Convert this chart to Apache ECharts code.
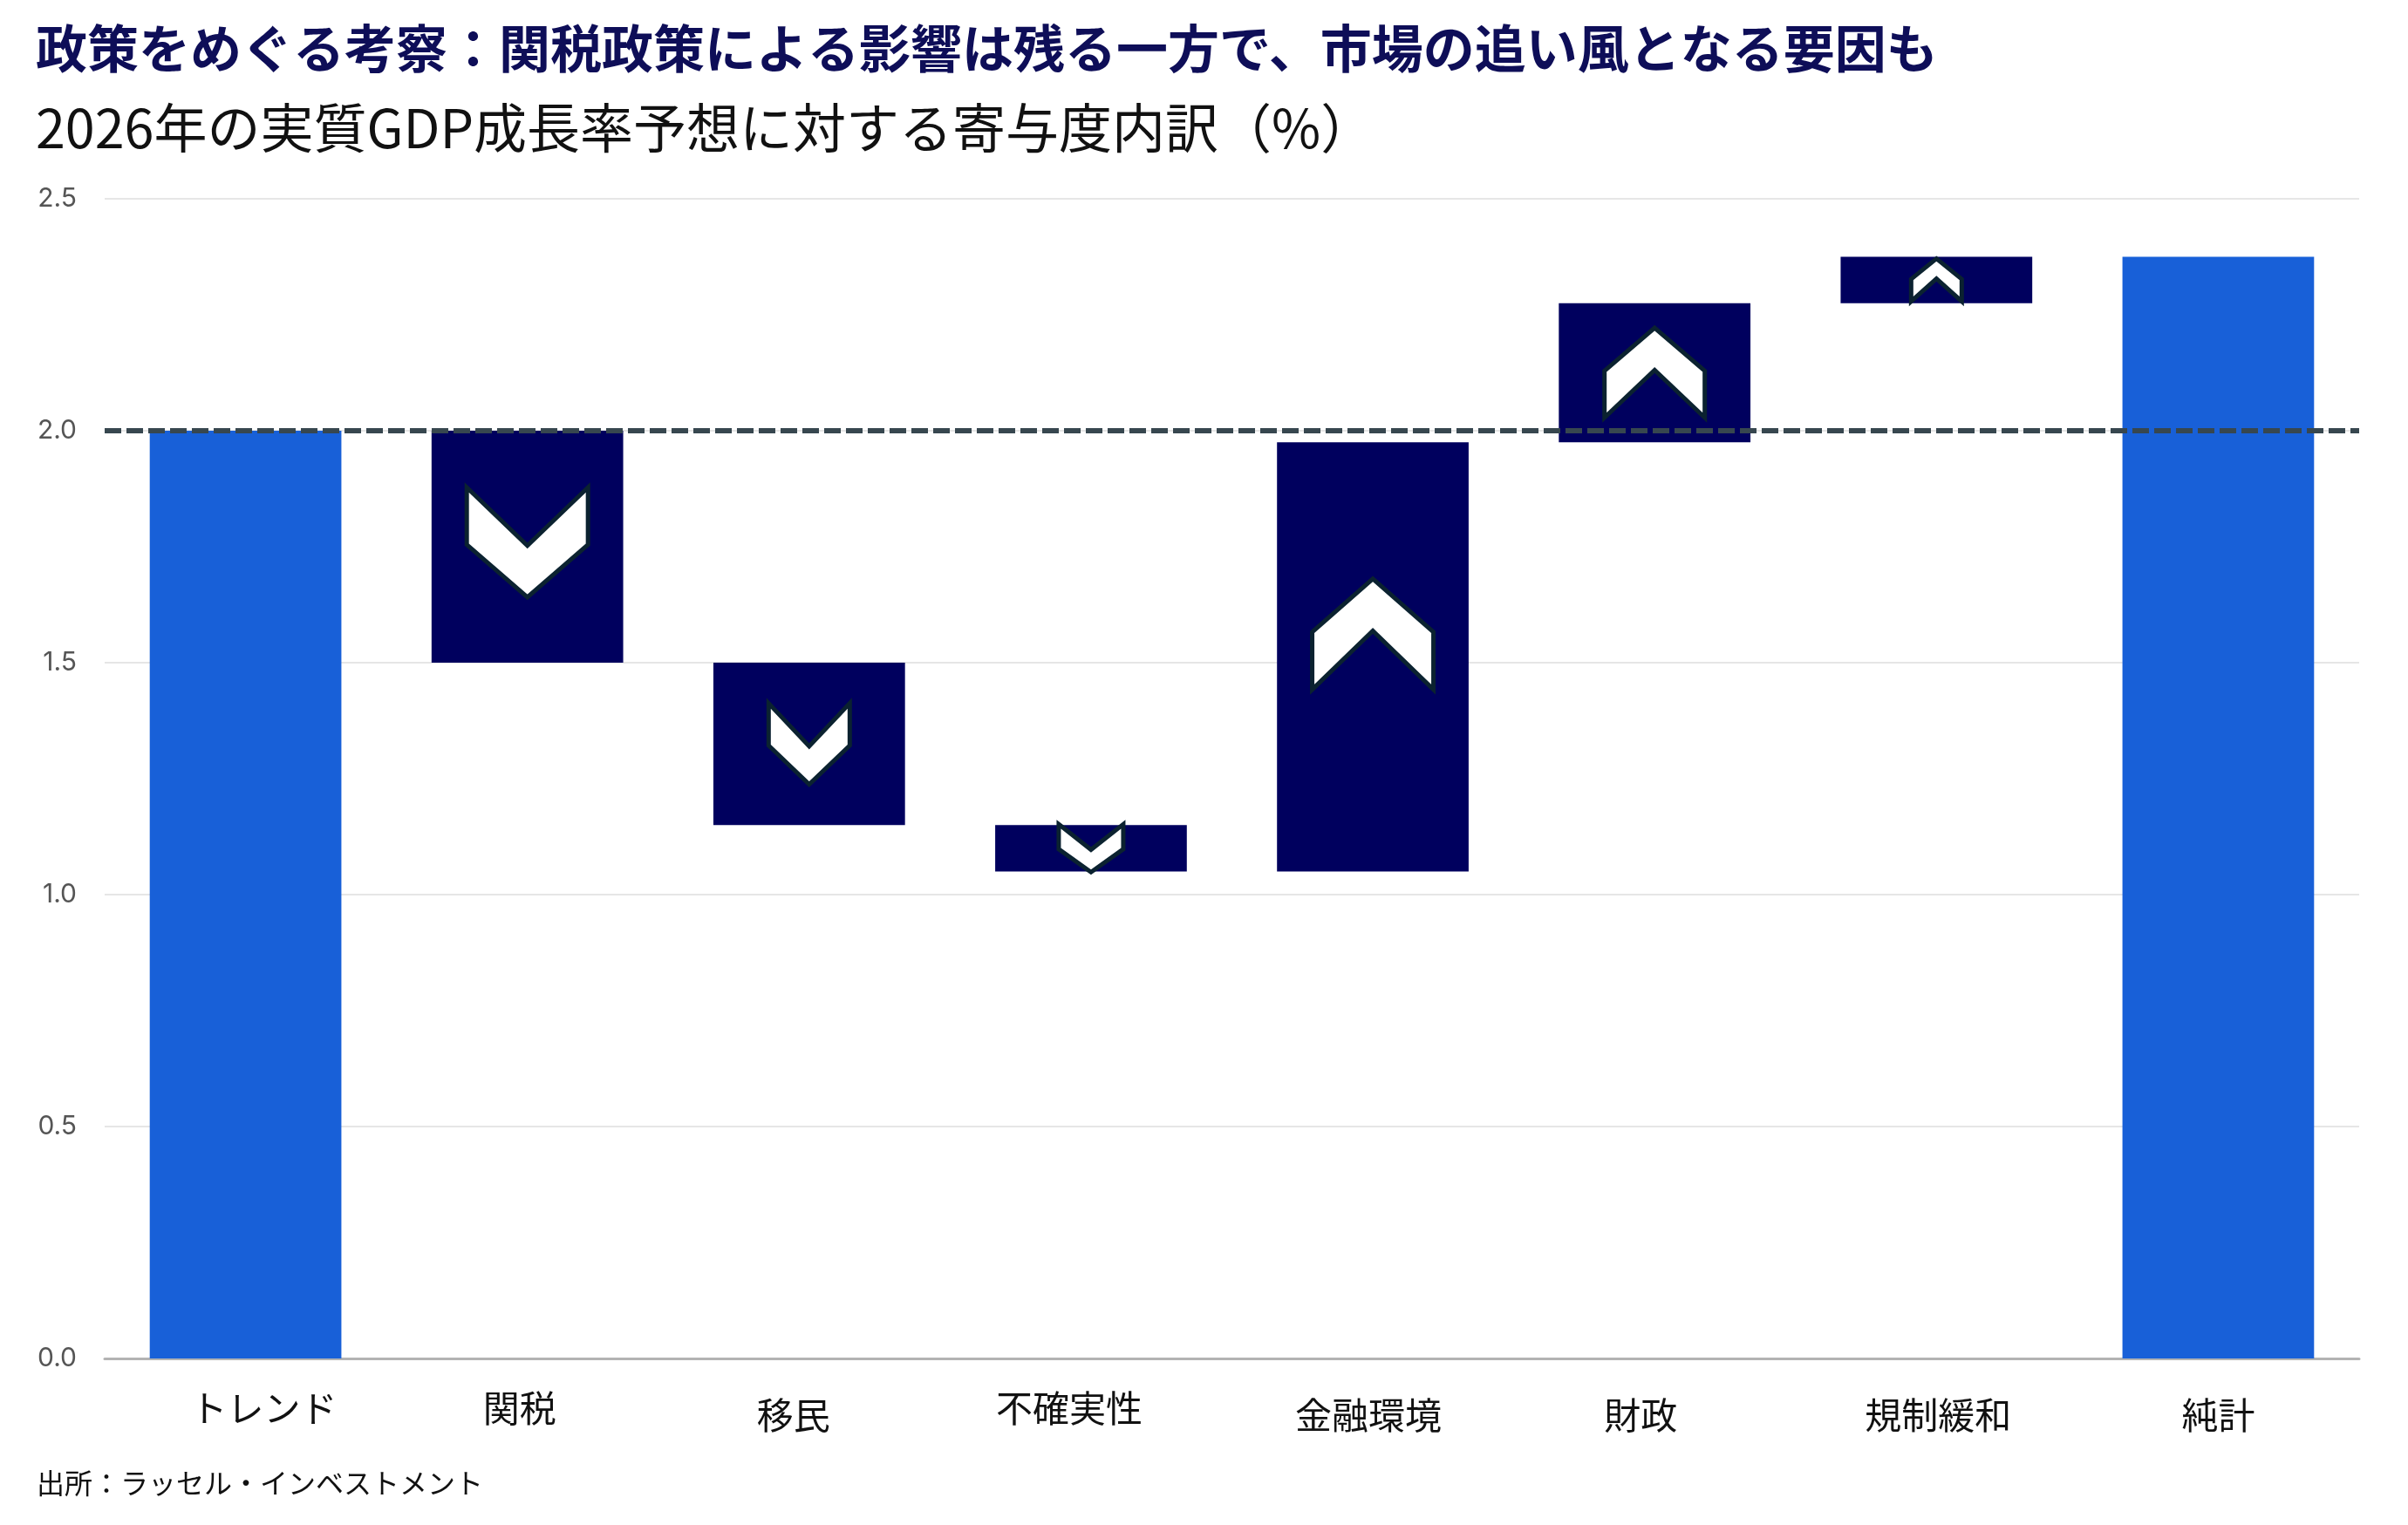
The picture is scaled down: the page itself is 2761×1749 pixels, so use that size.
<!DOCTYPE html>
<html>
<head>
<meta charset="utf-8">
<script src="https://cdn.jsdelivr.net/npm/echarts@6/dist/echarts.min.js"></script>
<style>
html,body{margin:0;padding:0;background:#fff;}
#chart{width:2761px;height:1749px;}
</style>
</head>
<body>
<div id="chart"></div>
<script>
// ---- data ----
const categories = ['トレンド', '関税', '移民', '不確実性', '金融環境', '財政', '規制緩和', '純計'];
const barKinds = ['total', 'delta', 'delta', 'delta', 'delta', 'delta', 'delta', 'total'];
const barValues = [2.0, -0.5, -0.35, -0.1, 0.925, 0.3, 0.1, 2.375];
const referenceLine = 2.0;
const yTicks = [0, 0.5, 1.0, 1.5, 2.0, 2.5];

const titleText = '政策をめぐる考察：関税政策による影響は残る一方で、市場の追い風となる要因も';
const subtitleText = '2026年の実質GDP成長率予想に対する寄与度内訳（%）';
const sourceText = '出所：ラッセル・インベストメント';

// ---- styling helpers (not data) ----
// chevron glyph sizes [width, height] in px and vertical nudge, per bar
const chevronStyle = [null, [139, 126, -5], [93, 93, 0], [74, 55, 0], [139, 127, -26], [115, 103, 0], [58, 49, 0], null];
// per-label horizontal nudge and vertical drop (px)
const labelNudge = [[21, 0], [-9, 0], [-18, 8], [-25, 0], [-5, 8], [-16, 8], [2, 8], [0, 8]];

// ---- build waterfall ranges ----
const wfData = [];
let running = 0;
for (let i = 0; i < categories.length; i++) {
  if (barKinds[i] === 'total') {
    wfData.push([i, 0, barValues[i], 0, 1]);
    running = barValues[i];
  } else {
    const start = running, end = running + barValues[i];
    wfData.push([i, Math.min(start, end), Math.max(start, end), barValues[i] > 0 ? 1 : -1, 0]);
    running = end;
  }
}

const JP = '"Noto Sans CJK JP", "Noto Sans", sans-serif';

function renderItem(params, api) {
  const i = api.value(0);
  const lo = api.value(1), hi = api.value(2), dir = api.value(3), isTotal = api.value(4);
  const pLo = api.coord([i, lo]);
  const pHi = api.coord([i, hi]);
  const bw = api.size([1, 0])[0] * 0.68;
  const x = pLo[0] - bw / 2;
  const y = pHi[1];
  const h = pLo[1] - pHi[1];
  const children = [{
    type: 'rect',
    shape: { x: x, y: y, width: bw, height: h },
    style: { fill: isTotal ? '#1860d8' : '#00005e' }
  }];
  const cs = chevronStyle[i];
  if (!isTotal && cs) {
    const cw = cs[0], ch = cs[1];
    const cx = pLo[0], cy = y + h / 2 + cs[2];
    const l = cx - cw / 2, r = cx + cw / 2, t = cy - ch / 2, b = cy + ch / 2;
    let pts;
    if (dir < 0) {
      pts = [[l, t], [cx, t + 0.53 * ch], [r, t], [r, t + 0.52 * ch], [cx, b], [l, t + 0.52 * ch]];
    } else {
      pts = [[l, b], [cx, b - 0.53 * ch], [r, b], [r, b - 0.52 * ch], [cx, t], [l, b - 0.52 * ch]];
    }
    children.push({
      type: 'polygon',
      shape: { points: pts },
      style: { fill: '#ffffff', stroke: '#0b2230', lineWidth: 5, lineJoin: 'miter' }
    });
  }
  return { type: 'group', children: children };
}

const rich = {};
labelNudge.forEach((n, i) => {
  const dx = n[0], dy = n[1];
  rich['l' + i] = {
    fontFamily: JP, fontSize: 42, color: '#111',
    padding: [dy, dx < 0 ? -2 * dx : 0, 0, dx > 0 ? 2 * dx : 0]
  };
});

const chart = echarts.init(document.getElementById('chart'), null, { renderer: 'canvas' });
chart.setOption({
  backgroundColor: '#ffffff',
  animation: false,
  title: [
    { text: titleText, left: 36, top: 21,
      textStyle: { fontFamily: JP, fontSize: 59, fontWeight: 'bold', color: '#0e0e58' } },
    { text: subtitleText, left: 36, top: 111,
      textStyle: { fontFamily: JP, fontSize: 61, fontWeight: 'normal', color: '#111' } },
    { text: sourceText, left: 37, top: 1680,
      textStyle: { fontFamily: JP, fontSize: 32, fontWeight: 'normal', color: '#111' } }
  ],
  grid: { left: 120, right: 56, top: 228, bottom: 191, containLabel: false },
  xAxis: {
    type: 'category',
    data: categories,
    axisLine: { lineStyle: { color: '#b3b3b3', width: 3 } },
    axisTick: { show: false },
    axisLabel: {
      fontFamily: JP, fontSize: 42, color: '#111', margin: 36, interval: 0,
      formatter: (v, idx) => '{l' + idx + '|' + v + '}',
      rich: rich
    },
    splitLine: { show: false }
  },
  yAxis: {
    type: 'value',
    min: yTicks[0],
    max: yTicks[yTicks.length - 1],
    interval: 0.5,
    axisLine: { show: false },
    axisTick: { show: false },
    axisLabel: { fontFamily: 'Inter, "Noto Sans", sans-serif', fontSize: 30, color: '#555', margin: 32,
      formatter: v => v.toFixed(1) },
    splitLine: { lineStyle: { color: '#e6e6e6', width: 2 } }
  },
  series: [
    {
      type: 'custom',
      renderItem: renderItem,
      data: wfData,
      encode: { x: 0, y: [1, 2] },
      z: 2
    },
    {
      type: 'line',
      data: [],
      z: 10,
      markLine: {
        silent: true,
        symbol: ['none', 'none'],
        label: { show: false },
        lineStyle: { type: [19, 6], width: 6, color: '#37474f' },
        data: [{ yAxis: referenceLine }],
        z: 10
      }
    }
  ]
});
</script>
</body>
</html>
